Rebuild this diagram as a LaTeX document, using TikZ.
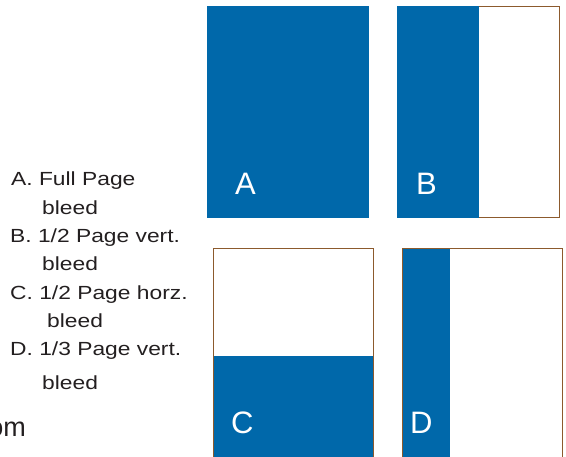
\documentclass[tikz,border=0pt]{standalone}
\usepackage{fontspec}
\setmainfont{Liberation Sans}
\newfontfamily\legendfont[FakeStretch=1.2]{Liberation Sans}
\definecolor{pageblue}{RGB}{0,104,170}
\definecolor{trimbrown}{RGB}{140,90,45}
\definecolor{ink}{RGB}{35,31,32}
\tikzset{
  legend/.style={anchor=base west, inner sep=0pt, text=ink, font=\legendfont\fontsize{19}{19}\selectfont},
  letter/.style={anchor=base west, inner sep=0pt, text=white, font=\fontsize{31}{31}\selectfont},
  bluepart/.style={fill=pageblue, draw=none},
  pageframe/.style={draw=trimbrown, line width=1pt, fill=none}
}
\begin{document}
\begin{tikzpicture}[x=1pt,y=-1pt]
\useasboundingbox (0,0) rectangle (566,457);
\clip (0,0) rectangle (566,457);
% A
\fill[pageblue] (207,6) rectangle (369,218);
\node[letter] (la) at (235,195) {A};
% B
\draw[pageframe] (397,6.5) rectangle (559,217.5);
\fill[pageblue] (396.5,6) rectangle (479,218);
\node[letter] (lb) at (416,195) {B};
% C
\fill[pageblue] (213,356) rectangle (373,470);
\draw[pageframe] (213,249) rectangle (373,470);
\node[letter] (lc) at (231,434) {C};
% D
\fill[pageblue] (402,249) rectangle (450,470);
\draw[pageframe] (402,249) rectangle (562,470);
\node[letter] (ld) at (410,434) {D};
% legend
\node[legend] (t1) at (11,186) {A. Full Page};
\node[legend] (t2) at (42,215) {bleed};
\node[legend] (t3) at (10,243) {B. 1/2 Page vert.};
\node[legend] (t4) at (42,271) {bleed};
\node[legend] (t5) at (10,300) {C. 1/2 Page horz.};
\node[legend] (t6) at (47,328) {bleed};
\node[legend] (t7) at (10,356) {D. 1/3 Page vert.};
\node[legend] (t8) at (42,390) {bleed};
\node[anchor=base east, inner sep=0pt, text=ink, font=\fontsize{27}{27}\selectfont] (om) at (26,437) {om};
\end{tikzpicture}
\end{document}
